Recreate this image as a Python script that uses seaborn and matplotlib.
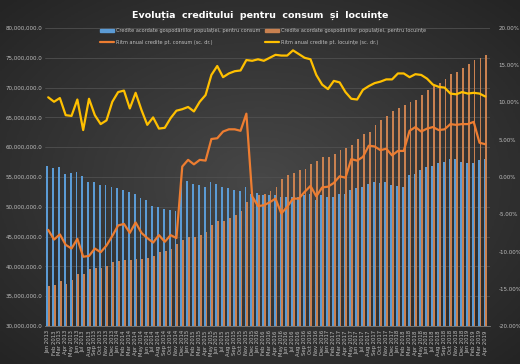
import numpy as np
import pandas as pd
import seaborn as sns
import matplotlib
matplotlib.use('Agg')
from matplotlib import pyplot as plt
from matplotlib.patches import Patch
from matplotlib.lines import Line2D
from matplotlib.ticker import FuncFormatter, MultipleLocator

# Date lunare (milioane lei / procente)
luni = ['Jan', 'Feb', 'Mar', 'Apr', 'May', 'Jun', 'Jul', 'Aug', 'Sep', 'Oct', 'Nov', 'Dec']
ani = [2013, 2014, 2015, 2016, 2017, 2018, 2019]

credit_consum = [56.8, 56.5, 56.6, 55.5, 55.7, 55.8, 55.1, 54.1, 54.2, 53.6, 53.6, 53.3, 53.1, 52.9, 52.4, 52.2, 51.5, 51.1, 50.1,
                 49.9, 49.6, 49.4, 49.3, 54.0, 54.3, 53.9, 53.6, 53.4, 54.2, 53.8, 53.3, 53.1, 52.8, 52.6, 53.4, 52.2, 52.3, 52.0,
                 52.0, 52.0, 51.7, 51.7, 51.7, 51.7, 52.0, 52.1, 51.2, 52.0, 51.7, 51.6, 52.1, 52.1, 52.8, 53.1, 53.3, 53.9, 54.1,
                 54.0, 54.2, 53.7, 53.5, 53.4, 55.3, 55.5, 56.2, 56.6, 56.9, 57.4, 57.6, 58.0, 58.0, 57.6, 57.4, 57.4, 57.8, 58.1]

credit_locuinte = [36.7, 36.8, 37.5, 37.0, 37.7, 38.7, 38.8, 39.5, 39.8, 39.8, 40.1, 40.7, 40.9, 41.1, 41.1, 41.3, 41.2, 41.4, 41.8,
                   42.4, 42.6, 43.0, 43.7, 44.4, 44.9, 44.9, 45.2, 45.8, 46.9, 47.7, 47.6, 48.2, 48.6, 49.3, 50.8, 51.4, 51.9, 52.2,
                   52.7, 53.3, 54.6, 55.4, 55.7, 56.1, 56.4, 57.1, 57.7, 58.3, 58.3, 58.8, 59.5, 59.8, 60.3, 61.4, 62.2, 62.5, 63.7,
                   64.5, 65.3, 66.0, 66.5, 67.0, 67.6, 68.0, 68.7, 69.6, 70.2, 70.8, 71.5, 72.2, 72.7, 73.3, 74.0, 74.6, 75.0, 75.4]

ritm_consum = [-7.1, -8.4, -7.7, -9.1, -9.6, -8.3, -10.7, -10.6, -9.6, -10.1, -9.2, -7.9, -6.5, -6.3, -7.5, -6.1, -7.5, -8.2, -8.8,
               -7.8, -8.7, -7.8, -8.2, 1.4, 2.3, 1.7, 2.3, 2.2, 5.1, 5.2, 6.1, 6.4, 6.4, 6.2, 8.5, -2.6, -3.9, -3.8,
               -3.4, -2.9, -4.9, -4.0, -2.9, -2.9, -2.0, -1.2, -2.6, -1.4, -1.3, -0.8, 0.1, -0.1, 2.4, 2.2, 2.7, 4.2, 4.1,
               3.6, 3.8, 2.9, 3.5, 3.5, 6.2, 6.7, 6.1, 6.5, 6.7, 6.3, 6.4, 7.1, 7.0, 7.1, 7.1, 7.4, 4.6, 4.4]

ritm_locuinte = [10.7, 10.1, 10.6, 8.3, 8.2, 10.4, 6.3, 10.5, 8.3, 7.1, 7.6, 10.1, 11.4, 11.6, 9.2, 11.3, 9.0, 7.0, 8.0,
                 6.5, 6.6, 7.9, 8.9, 9.1, 9.4, 8.8, 10.1, 11.0, 13.7, 14.9, 13.4, 13.9, 14.2, 14.3, 15.7, 15.6, 15.8, 15.6,
                 16.0, 16.4, 16.3, 16.3, 17.0, 16.5, 16.0, 15.8, 13.7, 12.4, 11.8, 12.9, 12.7, 11.4, 10.5, 10.4, 11.7, 12.2, 12.6,
                 12.8, 13.1, 13.1, 13.9, 13.9, 13.4, 13.8, 13.7, 13.2, 12.4, 12.1, 12.0, 11.2, 11.1, 11.4, 11.2, 11.3, 11.2, 10.8]

etichete = [f'{m} {a}' for a in ani for m in luni][:len(credit_consum)]

nume_consum = 'Credite acordate gospodăriilor populației, pentru consum'
nume_locuinte = 'Credite acordate gospodăriilor populației, pentru locuințe'
nume_ritm_c = 'Ritm anual credite pt. consum (sc. dr.)'
nume_ritm_l = 'Ritm anual credite pt. locuințe (sc. dr.)'

c_blue = '#5b9bd5'
c_bar_or = '#c98150'
c_line_or = '#ed7d31'
c_yellow = '#ffc000'
c_text = '#bfbfbf'

df = pd.DataFrame({
    'luna': etichete * 2,
    'valoare': [v * 1e6 for v in credit_consum + credit_locuinte],
    'serie': [nume_consum] * len(etichete) + [nume_locuinte] * len(etichete),
})

sns.set_style('dark')
plt.rcParams['font.family'] = ['DejaVu Sans']

fig = plt.figure(figsize=(5.2, 3.64), dpi=100)

# fundal gradient
bg = fig.add_axes([0, 0, 1, 1], zorder=-10)
yy, xx = np.mgrid[-1:1:200j, -1:1:300j]
r = np.sqrt(xx ** 2 + yy ** 2)
bg.imshow(-r, cmap=matplotlib.colors.LinearSegmentedColormap.from_list('g', ['#242424', '#474747']),
          aspect='auto', extent=[0, 1, 0, 1])
bg.axis('off')

ax = fig.add_axes([45 / 520, 1 - 326 / 364, 445 / 520, 298 / 364])
ax.patch.set_alpha(0)
sns.barplot(data=df, x='luna', y='valoare', hue='serie', palette=[c_blue, c_bar_or],
            width=0.62, gap=0, saturation=1, linewidth=0, edgecolor='none',
            legend=False, ax=ax)
ax.set_ylim(30e6, 80e6)
ax.set_xlim(-0.55, 75.8)
ax.yaxis.set_major_locator(MultipleLocator(5e6))
ax.yaxis.set_major_formatter(FuncFormatter(lambda v, p: f'{v:,.1f}'))
ax.grid(axis='y', color='#505050', lw=0.6)
ax.set_axisbelow(True)
ax.set_xlabel('')
ax.set_ylabel('')
for s in ['top', 'right', 'left']:
    ax.spines[s].set_visible(False)
ax.spines['bottom'].set_color('#808080')
ax.spines['bottom'].set_linewidth(0.6)
ax.tick_params(axis='y', colors=c_text, labelsize=4, length=0, pad=2)
ax.tick_params(axis='x', colors=c_text, labelsize=3.8, rotation=90, length=2, width=0.4, pad=1)

ax2 = ax.twinx()
ax2.patch.set_alpha(0)
x = np.arange(len(ritm_consum))
sns.lineplot(x=x, y=ritm_consum, ax=ax2, color=c_line_or, lw=1.6)
sns.lineplot(x=x, y=ritm_locuinte, ax=ax2, color=c_yellow, lw=1.6)
ax2.set_ylim(-20, 20)
ax2.yaxis.set_major_locator(MultipleLocator(5))
ax2.yaxis.set_major_formatter(FuncFormatter(lambda v, p: f'{v:.2f}%'))
ax2.tick_params(axis='y', colors=c_text, labelsize=4, length=0, pad=6)
ax2.grid(False)
for s in ax2.spines.values():
    s.set_visible(False)

handles = [Patch(color=c_blue), Line2D([], [], color=c_line_or, lw=1.6),
           Patch(color=c_bar_or), Line2D([], [], color=c_yellow, lw=1.6)]
labels = [nume_consum, nume_ritm_c, nume_locuinte, nume_ritm_l]
leg = ax2.legend(handles, labels, ncol=2, loc='upper center', bbox_to_anchor=(0.49, 1.015),
                 frameon=False, fontsize=3.6, labelcolor=c_text, handlelength=2.8,
                 handleheight=0.5, columnspacing=1.0, handletextpad=0.4, labelspacing=1.3)

fig.text(0.5, 0.958, 'Evoluția  creditului  pentru  consum  și  locuințe', ha='center', va='center',
         fontsize=6.8, weight='bold', color='white')

fig.savefig('out.png', dpi=100)
